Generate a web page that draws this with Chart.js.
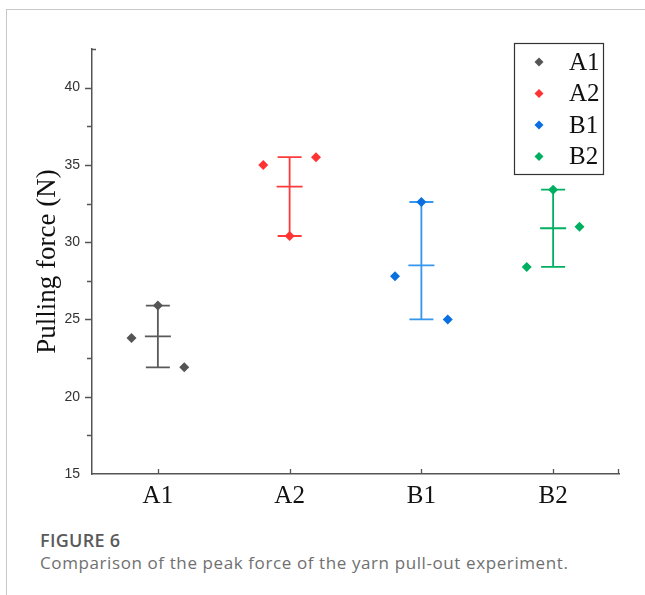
<!DOCTYPE html>
<html>
<head>
<meta charset="utf-8">
<script src="https://cdn.jsdelivr.net/npm/chart.js@4.4.1/dist/chart.umd.min.js"></script>
<style>
  html, body { margin: 0; padding: 0; background: #fff; }
  .page { position: relative; width: 645px; height: 595px; overflow: hidden; }
  .frame { position: absolute; left: 6px; top: 9px; width: 650px; height: 600px;
           border-top: 1px solid #c8c8c8; border-left: 1px solid #c8c8c8; }
  .chart-box { position: absolute; left: 0; top: 0; width: 645px; height: 520px; }
  .fig-no { position: absolute; left: 40px; top: 528px; font: 600 18px "Open Sans", sans-serif; color: #5a5a5a; letter-spacing: 0.3px; }
  .fig-cap { position: absolute; left: 40px; top: 551px; font: 400 17px "Open Sans", sans-serif; color: #707070; letter-spacing: 0.6px; white-space: nowrap; }
</style>
</head>
<body>
<div class="page">
  <div class="frame"></div>
  <div class="chart-box"><canvas id="chart" width="645" height="520"></canvas></div>
  <div class="fig-no">FIGURE 6</div>
  <div class="fig-cap">Comparison of the peak force of the yarn pull-out experiment.</div>
</div>
<script>
// groups on the x axis
var groups = ['A1', 'A2', 'B1', 'B2'];
// the three measured samples per group (left, middle, right marker)
var sampleLeft = [23.8, 35.0, 27.8, 28.4];
var sampleMid = [25.9, 30.4, 32.6, 33.4];
var sampleRight = [21.9, 35.5, 25.0, 31.0];
// mean line and error bar ends
var meanVals = [23.9, 33.6, 28.5, 30.9];
var barLow = [21.9, 30.4, 25.0, 28.4];
var barHigh = [25.9, 35.5, 32.6, 33.4];
// y axis
var yMin = 15, yMax = 42.5, yStep = 5, yMinor = 2.5;

var pointColors = ['#555555', '#ff3333', '#0a6fe0', '#00b060'];
var barColors = ['#5a5a5a', '#ff3a3a', '#3596ee', '#00b060'];
var jitter = 0.2;
var serif = '"Liberation Serif", "Times New Roman", serif';

var datasets = groups.map(function(g, i) {
    return {
        label: g,
        data: [
            {x: i - jitter, y: sampleLeft[i]},
            {x: i, y: sampleMid[i]},
            {x: i + jitter, y: sampleRight[i]}
        ],
        backgroundColor: pointColors[i],
        borderColor: pointColors[i],
        pointStyle: 'rectRot',
        pointRadius: 5,
        pointHoverRadius: 5,
        borderWidth: 0
    };
});

var errorBars = {
    id: 'errorBars',
    beforeDatasetsDraw: function(chart) {
        var ctx = chart.ctx, xs = chart.scales.x, ys = chart.scales.y;
        ctx.save();
        ctx.lineWidth = 1.8;
        groups.forEach(function(g, i) {
            var x = xs.getPixelForValue(i);
            var lo = ys.getPixelForValue(barLow[i]);
            var hi = ys.getPixelForValue(barHigh[i]);
            var m = ys.getPixelForValue(meanVals[i]);
            ctx.strokeStyle = barColors[i];
            ctx.beginPath();
            ctx.moveTo(x, lo); ctx.lineTo(x, hi);
            ctx.moveTo(x - 12, lo); ctx.lineTo(x + 12, lo);
            ctx.moveTo(x - 12, hi); ctx.lineTo(x + 12, hi);
            ctx.moveTo(x - 13, m); ctx.lineTo(x + 13, m);
            ctx.stroke();
        });
        ctx.restore();
    }
};

var axisTicks = {
    id: 'axisTicks',
    afterDraw: function(chart) {
        var ctx = chart.ctx, xs = chart.scales.x, ys = chart.scales.y, a = chart.chartArea;
        ctx.save();
        ctx.strokeStyle = '#555';
        ctx.lineWidth = 1.3;
        ctx.beginPath();
        for (var v = yMin + yMinor; v <= yMax + 0.001; v += yMinor) {
            var py = Math.round(ys.getPixelForValue(v)) + 0.5;
            if (Math.abs(v - yMax) < 0.001) {
                ctx.moveTo(a.left, py); ctx.lineTo(a.left + 4, py);
            } else {
                var len = (Math.abs((v - yMin) % yStep) < 0.001) ? 7 : 5;
                ctx.moveTo(a.left, py); ctx.lineTo(a.left - len, py);
            }
        }
        groups.forEach(function(g, i) {
            var px = Math.round(xs.getPixelForValue(i)) + 0.5;
            ctx.moveTo(px, a.bottom); ctx.lineTo(px, a.bottom - 5);
        });
        var ex = Math.round(xs.getPixelForValue(xs.max)) - 0.5;
        ctx.moveTo(ex, a.bottom); ctx.lineTo(ex, a.bottom - 5);
        ctx.stroke();

        // legend box in the upper right of the plot
        var bx = a.right - 105, by = a.top - 6, bw = 89, bh = 131;
        ctx.strokeStyle = '#333';
        ctx.lineWidth = 1.2;
        ctx.strokeRect(bx + 0.5, by + 0.5, bw, bh);
        ctx.font = '25px ' + serif;
        ctx.textBaseline = 'middle';
        groups.forEach(function(g, i) {
            var cy = by + 19 + i * 31.5;
            var cx = bx + 25;
            ctx.fillStyle = pointColors[i];
            ctx.beginPath();
            ctx.moveTo(cx, cy - 4.5); ctx.lineTo(cx + 4.5, cy);
            ctx.lineTo(cx, cy + 4.5); ctx.lineTo(cx - 4.5, cy);
            ctx.closePath();
            ctx.fill();
            ctx.fillStyle = '#111';
            ctx.fillText(g, bx + 55, cy + 1);
        });
        ctx.restore();
    }
};

new Chart(document.getElementById('chart'), {
    type: 'scatter',
    data: {datasets: datasets},
    plugins: [errorBars, axisTicks],
    options: {
        responsive: false,
        animation: false,
        devicePixelRatio: 1,
        layout: {padding: {top: 49, right: 26, left: 0, bottom: 0}},
        plugins: {legend: {display: false}, tooltip: {enabled: false}},
        scales: {
            x: {
                type: 'linear',
                min: -0.5,
                max: 3.5,
                afterBuildTicks: function(s) {
                    s.ticks = groups.map(function(g, i) { return {value: i}; });
                },
                afterFit: function(s) { s.height = 46; },
                grid: {display: false, drawTicks: false},
                border: {display: true, color: '#555', width: 1.5},
                ticks: {
                    padding: 7,
                    maxRotation: 0,
                    color: '#111',
                    font: {family: serif, size: 25},
                    callback: function(v) { return groups[v]; }
                }
            },
            y: {
                min: yMin,
                max: yMax,
                afterBuildTicks: function(s) {
                    var t = [];
                    for (var v = yMin; v <= 40; v += yStep) t.push({value: v});
                    s.ticks = t;
                },
                afterFit: function(s) { s.width = 92; },
                grid: {display: false, drawTicks: false},
                border: {display: true, color: '#555', width: 1.5},
                title: {
                    display: true,
                    text: 'Pulling force (N)',
                    color: '#111',
                    font: {family: serif, size: 27},
                    padding: {top: 32, bottom: 0}
                },
                ticks: {
                    padding: 12,
                    color: '#333',
                    font: {family: '"Liberation Sans", Arial, sans-serif', size: 14}
                }
            }
        }
    }
});
</script>
</body>
</html>
